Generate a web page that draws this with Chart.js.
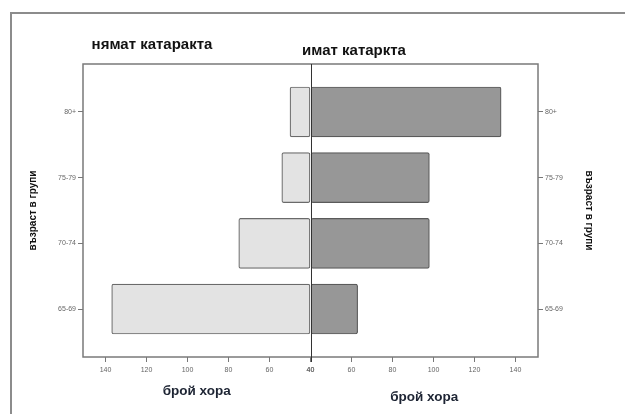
<!DOCTYPE html>
<html>
<head>
<meta charset="utf-8">
<script src="https://cdn.jsdelivr.net/npm/chart.js@4.4.1/dist/chart.umd.min.js"></script>
<style>
  html, body { margin: 0; padding: 0; background: #fff; }
  #wrap { width: 625px; height: 414px; position: relative; }
</style>
</head>
<body>
<div id="wrap"><canvas id="c"></canvas></div>
<script>
// Age groups, top to bottom
const ages = ['80+', '75-79', '70-74', '65-69'];
// Number of people per age group
const noCataract = [50, 54, 75, 137];
const withCataract = [133, 98, 98, 63];
// Count-axis tick values shared by both halves
const countTicks = [40, 60, 80, 100, 120, 140];

const headerLeft = 'нямат катаракта';
const headerRight = 'имат катаркта';
const countTitle = 'брой хора';
const ageTitle = 'възраст в групи';

// age group i sits at row position (n - i) on the linear row axis
const rowOf = i => ages.length - i;
const toPoints = vals => vals.map((v, i) => ({ x: v, y: rowOf(i) }));

const tickFont = { family: 'Liberation Sans', size: 7 };
const tickColor = '#666';

function ageAxis(position, titlePad, width) {
  return {
    type: 'linear',
    position: position,
    offset: false,
    min: 0.27,
    max: 4.73,
    afterBuildTicks: s => { s.ticks = ages.map((a, i) => ({ value: rowOf(i) })); },
    afterFit: s => { s.width = width; },
    ticks: {
      font: tickFont, color: tickColor, padding: 2,
      callback: v => ages[ages.length - v]
    },
    grid: { offset: false, drawOnChartArea: false, drawTicks: true, tickLength: 5, color: '#777' },
    border: { display: false },
    title: {
      display: true, text: ageTitle, color: '#111',
      font: { family: 'Liberation Sans', size: 10, weight: 'bold' },
      padding: { top: titlePad, bottom: 0 }
    }
  };
}

function countAxis(reverse, titlePad) {
  return {
    type: 'linear',
    position: 'bottom',
    stack: 'count',
    stackWeight: 1,
    reverse: reverse,
    min: 40,
    max: 151,
    afterBuildTicks: s => { s.ticks = countTicks.map(v => ({ value: v })); },
    afterFit: s => { s.height = 57; },
    ticks: { font: tickFont, color: tickColor, padding: 4, maxRotation: 0, autoSkip: false },
    grid: { drawOnChartArea: false, drawTicks: true, tickLength: 5, color: '#777' },
    border: { display: false },
    title: {
      display: true, text: countTitle, color: '#1d2433',
      font: { family: 'Liberation Sans', size: 13.5, weight: 'bold' },
      padding: { top: 0, bottom: titlePad }
    }
  };
}

// Outer page frame, plot frame, centre divider and the two group headings
const framePlugin = {
  id: 'pyramidFrame',
  beforeDraw(chart) {
    const ctx = chart.ctx;
    ctx.save();
    ctx.fillStyle = '#fff';
    ctx.fillRect(0, 0, chart.width, chart.height);
    ctx.strokeStyle = '#8c8c8c';
    ctx.lineWidth = 2;
    ctx.beginPath();
    ctx.moveTo(11, chart.height);
    ctx.lineTo(11, 13);
    ctx.lineTo(chart.width, 13);
    ctx.stroke();
    ctx.restore();
  },
  afterDatasetsDraw(chart) {
    const ctx = chart.ctx;
    const a = chart.chartArea;
    const mid = chart.scales.xR.getPixelForValue(40);
    ctx.save();
    ctx.strokeStyle = '#7a7a7a';
    ctx.lineWidth = 1.5;
    ctx.strokeRect(a.left, a.top, a.right - a.left, a.bottom - a.top);
    ctx.strokeStyle = '#333';
    ctx.lineWidth = 1;
    ctx.beginPath();
    ctx.moveTo(Math.round(mid) + 0.5, a.top);
    ctx.lineTo(Math.round(mid) + 0.5, a.bottom + 5);
    ctx.stroke();
    ctx.fillStyle = '#111';
    ctx.font = 'bold 15px "Liberation Sans"';
    ctx.textAlign = 'center';
    ctx.textBaseline = 'middle';
    ctx.fillText(headerLeft, 152, 45);
    ctx.fillText(headerRight, 354, 51);
    ctx.restore();
  }
};

new Chart(document.getElementById('c'), {
  type: 'bar',
  data: {
    datasets: [
      {
        label: headerLeft,
        data: toPoints(noCataract),
        xAxisID: 'xL', yAxisID: 'yL',
        base: 40,
        grouped: false,
        backgroundColor: '#e3e3e3',
        borderColor: '#6a6a6a',
        borderWidth: 1.2,
        borderRadius: 2,
        borderSkipped: false,
        barThickness: 50
      },
      {
        label: headerRight,
        data: toPoints(withCataract),
        xAxisID: 'xR', yAxisID: 'yR',
        base: 40,
        grouped: false,
        backgroundColor: '#979797',
        borderColor: '#5a5a5a',
        borderWidth: 1.2,
        borderRadius: 2,
        borderSkipped: false,
        barThickness: 50
      }
    ]
  },
  options: {
    indexAxis: 'y',
    responsive: true,
    maintainAspectRatio: false,
    animation: false,
    layout: { padding: { top: 64, left: 0, right: 0, bottom: 0 } },
    plugins: { legend: { display: false }, tooltip: { enabled: false } },
    scales: {
      xL: countAxis(true, 15),
      xR: countAxis(false, 9),
      yL: ageAxis('left', 27, 83),
      yR: ageAxis('right', 30, 87)
    }
  },
  plugins: [framePlugin]
});
</script>
</body>
</html>
